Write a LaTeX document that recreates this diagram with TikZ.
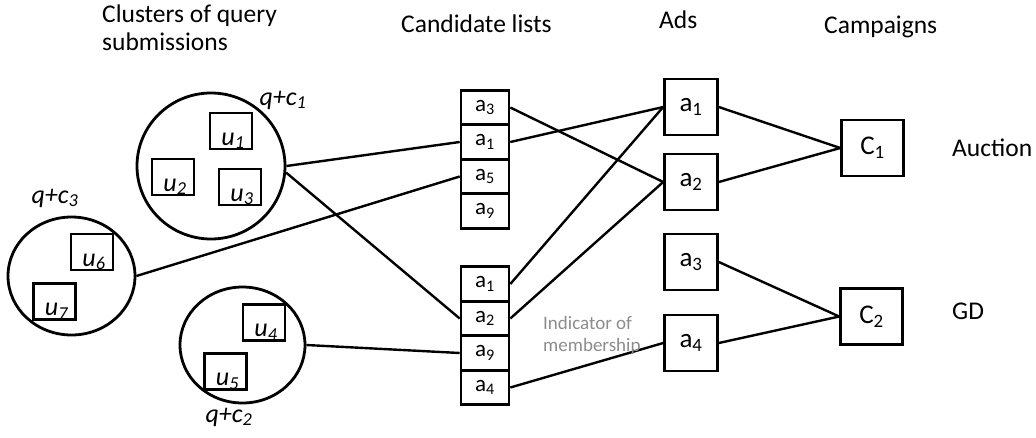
\documentclass[tikz,border=0pt]{standalone}
\usepackage{fontspec}
\setmainfont{Carlito}
\usetikzlibrary{shapes.geometric}
% a query-submission box whose label sits low and is cut off by the frame
\newcommand\subbox[3]{%
  \node[ubox,path picture={\node[utext] (#1t) at ([xshift=2pt,yshift=4pt]path picture bounding box.south) {#3};}] (#1) at #2 {};}
\begin{document}
\begin{tikzpicture}[x=1pt,y=-1pt,
  link/.style={line width=2.4pt},
  cell/.style={draw,line width=2.6pt,minimum width=48pt,minimum height=34.5pt,inner sep=0pt,font=\fontsize{23}{24}\selectfont},
  adbox/.style={draw,line width=2.6pt,minimum width=53pt,minimum height=56pt,inner sep=0pt,font=\fontsize{27}{28}\selectfont},
  campbox/.style={draw,line width=2.6pt,minimum width=62pt,minimum height=56pt,inner sep=0pt,font=\fontsize{27}{28}\selectfont},
  ubox/.style={draw,line width=2.6pt,minimum width=42pt,minimum height=36pt,inner sep=0pt},
  utext/.style={anchor=base,inner sep=0pt,font=\fontsize{26}{28}\selectfont\itshape},
  cluster/.style={draw,line width=2.8pt,ellipse,inner sep=0pt},
  qlabel/.style={inner sep=0pt,font=\fontsize{26}{28}\selectfont\itshape},
  header/.style={anchor=base west,inner sep=0pt,font=\fontsize{25.5}{28}\selectfont},
  note/.style={text=black!45,align=left,inner sep=0pt,anchor=north west,font=\fontsize{19}{22}\selectfont}]
\useasboundingbox (0,0) rectangle (1036,437);

% column headers
\node[header] (h1) at (102,22) {Clusters of query};
\node[header] (h1b) at (102,50) {submissions};
\node[header] (h2) at (401,32) {Candidate lists};
\node[header] (h3) at (659,28) {Ads};
\node[header] (h4) at (824,33) {Campaigns};
\node[header] (auction) at (952,156) {Auction};
\node[header] (gd) at (952,319) {GD};

% clusters of query submissions
\node[cluster,minimum width=148pt,minimum height=146pt] (c1) at (211,166) {};
\node[cluster,minimum width=127pt,minimum height=118pt] (c3) at (71.5,276) {};
\node[cluster,minimum width=125pt,minimum height=116pt] (c2) at (242.5,345) {};

\subbox{u1}{(231,131)}{u\textsubscript{1}}
\subbox{u2}{(173,177)}{u\textsubscript{2}}
\subbox{u3}{(240,187)}{u\textsubscript{3}}
\subbox{u6}{(92,252)}{u\textsubscript{6}}
\subbox{u7}{(54.5,301.5)}{u\textsubscript{7}}
\subbox{u4}{(264,322.5)}{u\textsubscript{4}}
\subbox{u5}{(225.5,371.5)}{u\textsubscript{5}}

\node[qlabel] (q1) at (283,100) {q+c\textsubscript{1}};
\node[qlabel] (q3) at (55,198) {q+c\textsubscript{3}};
\node[qlabel] (q2) at (229,417) {q+c\textsubscript{2}};

% candidate lists
\node[cell] (t3) at (485,107.5) {a\textsubscript{3}};
\node[cell] (t1) at (485,142) {a\textsubscript{1}};
\node[cell] (t5) at (485,176.5) {a\textsubscript{5}};
\node[cell] (t9) at (485,211) {a\textsubscript{9}};
\node[cell] (b1) at (485,284) {a\textsubscript{1}};
\node[cell] (b2) at (485,318.5) {a\textsubscript{2}};
\node[cell] (b9) at (485,353) {a\textsubscript{9}};
\node[cell] (b4) at (485,387.5) {a\textsubscript{4}};

% ads
\node[adbox] (a1) at (691,107) {a\textsubscript{1}};
\node[adbox] (a2) at (691,182) {a\textsubscript{2}};
\node[adbox] (a3) at (691,262) {a\textsubscript{3}};
\node[adbox] (a4) at (691,343) {a\textsubscript{4}};

% campaigns
\node[campbox] (C1) at (872.5,148) {C\textsubscript{1}};
\node[campbox] (C2) at (871.5,316.5) {C\textsubscript{2}};

% memberships
\draw[link] (c1.east) -- (t1.west);
\draw[link] (c1.-5) -- (b2.west);
\draw[link] (c3.east) -- (t5.west);
\draw[link] (c2.east) -- (b9.west);

\draw[link] (t3.east) -- (a2.west);
\draw[link] (t1.east) -- (a1.west);
\draw[link] (b1.east) -- (a1.west);
\draw[link] (b2.east) -- (a2.west);
\draw[link] (b4.east) -- (a4.west);

\draw[link] (a1.east) -- (C1.west);
\draw[link] (a2.east) -- (C1.west);
\draw[link] (a3.east) -- (C2.west);
\draw[link] (a4.east) -- (C2.west);

\node[note] (ind) at (543,316) {Indicator of\\membership};
\end{tikzpicture}
\end{document}
